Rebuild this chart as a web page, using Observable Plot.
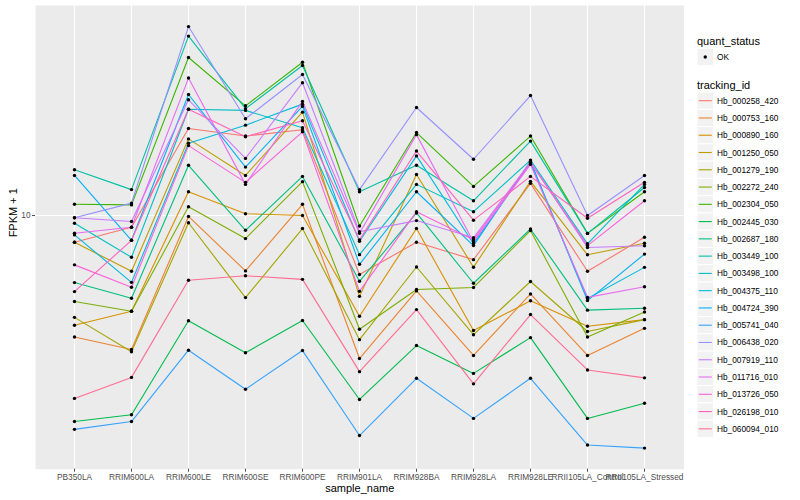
<!DOCTYPE html>
<html><head><meta charset="utf-8">
<script src="https://cdn.jsdelivr.net/npm/d3@7"></script>
<script src="https://cdn.jsdelivr.net/npm/@observablehq/plot@0.6"></script>
<style>
body{margin:0;background:#fff;font-family:"Liberation Sans",Arial,sans-serif;}
#wrap{position:relative;width:800px;height:500px;}
</style></head><body><div id="wrap"></div>
<script>
const samples = ["PB350LA","RRIM600LA","RRIM600LE","RRIM600SE","RRIM600PE","RRIM901LA","RRIM928BA","RRIM928LA","RRIM928LE","RRII105LA_Control","RRII105LA_Stressed"];
const trackingIds = ["Hb_000258_420","Hb_000753_160","Hb_000890_160","Hb_001250_050","Hb_001279_190","Hb_002272_240","Hb_002304_050","Hb_002445_030","Hb_002687_180","Hb_003449_100","Hb_003498_100","Hb_004375_110","Hb_004724_390","Hb_005741_040","Hb_006438_020","Hb_007919_110","Hb_011716_010","Hb_013726_050","Hb_026198_010","Hb_060094_010"];
const lineColors = ["#F8766D","#EA8331","#D89000","#C09B00","#A3A500","#7CAE00","#39B600","#00BB4E","#00BF7D","#00C1A3","#00BFC4","#00BAE0","#00B0F6","#35A2FF","#9590FF","#C77CFF","#E76BF3","#FA62DB","#FF62BC","#FF6C91"];
const quantStatus = ["OK"];
const yTicks = [10];

// FPKM + 1 per tracking_id, in sample order
const Hb_000258_420 = [8.15, 9.14, 19.5, 18.4, 19.3, 6.36, 8.15, 7.13, 12.8, 6.52, 8.47];
const Hb_000753_160 = [3.94, 3.58, 9.93, 6.54, 10.9, 3.34, 5.61, 3.42, 5.48, 3.42, 4.21];
const Hb_000890_160 = [4.31, 4.80, 12.0, 10.14, 10.0, 4.62, 9.05, 4.14, 5.20, 4.28, 4.50];
const Hb_001250_050 = [8.15, 6.52, 18.0, 13.6, 22.1, 5.38, 13.7, 6.73, 13.0, 7.40, 8.09];
const Hb_001279_190 = [4.58, 3.52, 9.46, 5.33, 9.05, 3.86, 6.74, 4.01, 6.03, 4.11, 4.50];
const Hb_002272_240 = [5.17, 4.80, 10.7, 8.38, 12.97, 4.18, 5.67, 5.76, 8.91, 3.94, 4.77];
const Hb_002304_050 = [10.9, 10.85, 33.6, 23.2, 32.4, 9.23, 18.9, 12.5, 18.4, 8.72, 12.0];
const Hb_002445_030 = [2.06, 2.17, 4.46, 3.49, 4.47, 2.44, 3.69, 2.98, 3.92, 2.11, 2.37];
const Hb_002687_180 = [5.98, 5.30, 14.7, 8.93, 13.5, 6.04, 10.2, 5.95, 9.02, 4.84, 4.91];
const Hb_003449_100 = [14.2, 12.2, 39.6, 22.7, 31.6, 12.0, 14.7, 11.2, 17.7, 8.72, 12.4];
const Hb_003498_100 = [9.43, 7.26, 22.6, 22.4, 19.6, 7.41, 12.7, 10.3, 15.3, 8.05, 12.7];
const Hb_004375_110 = [8.62, 5.99, 17.4, 20.0, 23.5, 8.21, 15.8, 8.05, 15.0, 5.29, 6.72];
const Hb_004724_390 = [13.6, 8.27, 25.3, 14.5, 23.1, 6.88, 12.0, 7.94, 15.2, 5.21, 7.44];
const Hb_005741_040 = [1.94, 2.06, 3.56, 2.64, 3.55, 1.85, 2.87, 2.11, 2.87, 1.72, 1.68];
const Hb_006438_020 = [9.83, 11.0, 42.6, 21.0, 29.5, 12.2, 22.9, 15.4, 25.1, 10.0, 13.6];
const Hb_007919_110 = [9.83, 9.55, 24.3, 15.5, 27.7, 8.83, 9.62, 8.43, 15.1, 7.83, 7.93];
const Hb_011716_010 = [8.73, 9.14, 28.7, 12.7, 24.0, 8.73, 18.6, 8.17, 14.8, 5.34, 5.79];
const Hb_013726_050 = [6.85, 5.77, 17.1, 12.9, 19.0, 5.59, 10.3, 8.30, 15.0, 7.94, 11.2];
const Hb_026198_010 = [5.58, 8.27, 22.6, 18.3, 20.7, 8.30, 16.4, 9.65, 13.5, 9.79, 12.9];
const Hb_060094_010 = [2.46, 2.89, 6.09, 6.30, 6.13, 3.02, 4.86, 2.75, 4.68, 3.06, 2.88];

const seriesValues = [Hb_000258_420, Hb_000753_160, Hb_000890_160, Hb_001250_050, Hb_001279_190, Hb_002272_240, Hb_002304_050, Hb_002445_030, Hb_002687_180, Hb_003449_100, Hb_003498_100, Hb_004375_110, Hb_004724_390, Hb_005741_040, Hb_006438_020, Hb_007919_110, Hb_011716_010, Hb_013726_050, Hb_026198_010, Hb_060094_010];

const rows = [];
trackingIds.forEach((id, i) => samples.forEach((s, j) => rows.push({tracking_id: id, sample_name: s, fpkm1: seriesValues[i][j], quant_status: quantStatus[0]})));

const ext = d3.extent(rows, d => d.fpkm1);
const lr = Math.log10(ext[1] / ext[0]);
const yDomain = [ext[0] / Math.pow(10, 0.05 * lr), ext[1] * Math.pow(10, 0.05 * lr)];

const W = 800, H = 500, mL = 35, mR = 116.5, mT = 5, mB = 31.3;
const chart = Plot.plot({
  width: W, height: H, marginLeft: mL, marginRight: mR, marginTop: mT, marginBottom: mB,
  style: {fontFamily: "Liberation Sans, Arial, sans-serif", background: "#fff", overflow: "visible"},
  x: {type: "point", domain: samples, padding: 0.6, label: null},
  y: {type: "log", domain: yDomain, label: null},
  color: {domain: trackingIds, range: lineColors},
  marks: [
    Plot.frame({fill: "#EBEBEB", stroke: null}),
    Plot.gridX(samples, {stroke: "#fff", strokeOpacity: 1, strokeWidth: 1.1}),
    Plot.gridY(yTicks, {stroke: "#fff", strokeOpacity: 1, strokeWidth: 1.1}),
    Plot.line(rows, {x: "sample_name", y: "fpkm1", z: "tracking_id", stroke: "tracking_id", strokeWidth: 1.1}),
    Plot.dot(rows, {x: "sample_name", y: "fpkm1", r: 1.7, fill: "#000", stroke: null}),
    Plot.axisX({tickSize: 3, tickPadding: 2, fontSize: 8.3, color: "#4D4D4D", label: null}),
    Plot.axisY(yTicks, {tickSize: 3, tickPadding: 2, fontSize: 8.3, color: "#4D4D4D", label: null, tickFormat: d => String(d)}),
    Plot.text(["sample_name"], {frameAnchor: "bottom", dy: 23, fontSize: 11, fill: "#000"}),
    Plot.text(["FPKM + 1"], {frameAnchor: "left", dx: -22, rotate: -90, fontSize: 11, fill: "#000"})
  ]
});
document.getElementById("wrap").appendChild(chart);

// legend (ggplot style) on the right
const svg = d3.select(chart);
const lg = svg.append("g").attr("font-family", "Liberation Sans, Arial, sans-serif").attr("text-anchor", "start");
const lx = 697, kw = 16.5, kh = 17.27, tx = 717;
lg.append("text").attr("x", lx).attr("y", 40.7).attr("text-anchor", "start").attr("dominant-baseline", "central").attr("font-size", 11).attr("fill", "#000").text("quant_status");
lg.append("rect").attr("x", lx).attr("y", 57 - kh / 2).attr("width", kw).attr("height", kh).attr("fill", "#F2F2F2").attr("stroke", "#fff");
lg.append("circle").attr("cx", lx + kw / 2).attr("cy", 57).attr("r", 1.7).attr("fill", "#000");
lg.append("text").attr("x", tx).attr("y", 57).attr("text-anchor", "start").attr("dominant-baseline", "central").attr("font-size", 8.3).attr("fill", "#000").text(quantStatus[0]);
lg.append("text").attr("x", lx).attr("y", 85).attr("text-anchor", "start").attr("dominant-baseline", "central").attr("font-size", 11).attr("fill", "#000").text("tracking_id");
trackingIds.forEach((id, i) => {
  const cy = 100.7 + i * kh;
  lg.append("rect").attr("x", lx).attr("y", cy - kh / 2).attr("width", kw).attr("height", kh).attr("fill", "#F2F2F2").attr("stroke", "#fff");
  lg.append("line").attr("x1", lx + 1.7).attr("x2", lx + kw - 1.7).attr("y1", cy).attr("y2", cy).attr("stroke", lineColors[i]).attr("stroke-width", 1.1);
  lg.append("text").attr("x", tx).attr("y", cy).attr("text-anchor", "start").attr("dominant-baseline", "central").attr("font-size", 8.3).attr("fill", "#000").text(id);
});
</script></body></html>
